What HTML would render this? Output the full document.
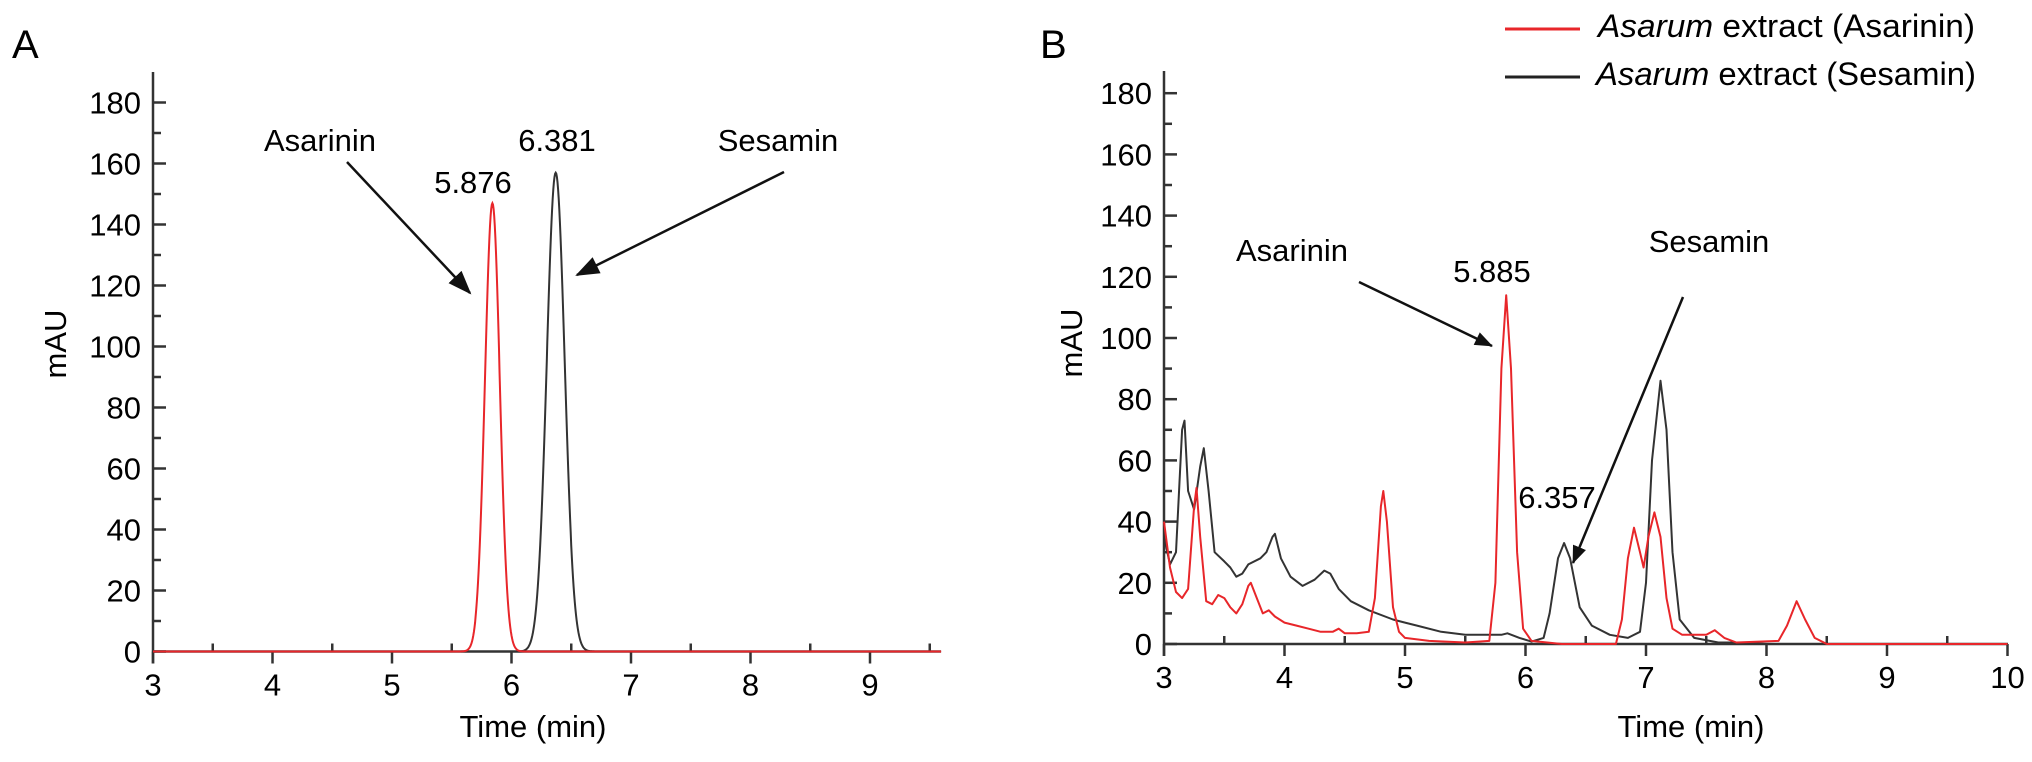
<!DOCTYPE html>
<html><head><meta charset="utf-8"><style>
html,body{margin:0;padding:0;background:#fff}
svg{display:block;font-family:"Liberation Sans",Arial,sans-serif}
</style></head><body>
<svg id="fig" width="2032" height="762" viewBox="0 0 2032 762">
<defs>
<marker id="ah" markerWidth="24" markerHeight="18" refX="22" refY="9" orient="auto" markerUnits="userSpaceOnUse" viewBox="0 0 24 18"><path d="M0,0 L24,9 L0,18 z" fill="#111"/></marker>
<marker id="ahs" markerWidth="18" markerHeight="14" refX="17" refY="7" orient="auto" markerUnits="userSpaceOnUse" viewBox="0 0 18 14"><path d="M0,0 L18,7 L0,14 z" fill="#111"/></marker>
</defs>
<text x="12" y="58" font-size="40">A</text>
<text x="1040" y="58" font-size="40">B</text>
<g id="pa"></g>
<g id="pb"></g>
<g>
<line x1="1505" y1="29" x2="1580" y2="29" stroke="#e8262a" stroke-width="3"/>
<text x="1598" y="37" font-size="32" textLength="377" lengthAdjust="spacingAndGlyphs"><tspan font-style="italic">Asarum</tspan> extract (Asarinin)</text>
<line x1="1505" y1="77" x2="1580" y2="77" stroke="#222" stroke-width="3"/>
<text x="1596" y="85" font-size="32" textLength="380" lengthAdjust="spacingAndGlyphs"><tspan font-style="italic">Asarum</tspan> extract (Sesamin)</text>
</g>
<g font-size="31">
<text x="320" y="151" text-anchor="middle">Asarinin</text>
<line x1="347" y1="162" x2="470" y2="293" stroke="#111" stroke-width="2.5" marker-end="url(#ah)"/>
<text x="473" y="193" text-anchor="middle">5.876</text>
<text x="557" y="151" text-anchor="middle">6.381</text>
<text x="778" y="151" text-anchor="middle">Sesamin</text>
<line x1="784" y1="172" x2="577" y2="275" stroke="#111" stroke-width="2.5" marker-end="url(#ah)"/>
</g>
<g font-size="31">
<text x="1292" y="261" text-anchor="middle">Asarinin</text>
<line x1="1359" y1="282" x2="1492" y2="346" stroke="#111" stroke-width="2.5" marker-end="url(#ahs)"/>
<text x="1492" y="282" text-anchor="middle">5.885</text>
<text x="1709" y="252" text-anchor="middle">Sesamin</text>
<line x1="1683" y1="297" x2="1573" y2="563" stroke="#111" stroke-width="2.5" marker-end="url(#ahs)"/>
<text x="1557" y="508" text-anchor="middle">6.357</text>
</g>
</svg>
<script>
// Panel A peaks: [center, height, sigma]
const peaksARed = [[5.84, 147, 0.062]];
const peaksABlack = [[6.37, 157, 0.075]];
// Panel B traces: times and values
const bRedT = [3.0,3.05,3.1,3.15,3.2,3.25,3.27,3.3,3.35,3.4,3.45,3.5,3.55,3.6,3.65,3.7,3.72,3.77,3.82,3.87,3.92,4.0,4.1,4.2,4.3,4.4,4.45,4.5,4.6,4.7,4.75,4.8,4.82,4.85,4.9,4.95,5.0,5.2,5.5,5.7,5.75,5.8,5.84,5.88,5.93,5.98,6.05,6.3,6.75,6.8,6.85,6.9,6.95,6.98,7.02,7.07,7.12,7.17,7.22,7.3,7.5,7.57,7.65,7.75,8.1,8.17,8.25,8.32,8.4,8.5,10];
const bRedV = [40,25,17,15,18,45,51,35,14,13,16,15,12,10,13,19,20,15,10,11,9,7,6,5,4,4,5,3.5,3.5,4,15,45,50,40,12,4,2,1,0.5,1,20,90,114,90,30,5,1,0,0,8,28,38,30,25,35,43,35,15,5,3,3,4.5,2,0.5,1,6,14,8,2,0,0];
const bBlackT = [3.0,3.05,3.1,3.15,3.17,3.2,3.25,3.3,3.33,3.37,3.42,3.5,3.55,3.6,3.65,3.7,3.8,3.85,3.9,3.92,3.97,4.05,4.15,4.25,4.33,4.38,4.45,4.55,4.7,4.9,5.0,5.1,5.3,5.5,5.8,5.85,5.95,6.05,6.15,6.2,6.27,6.32,6.37,6.45,6.55,6.7,6.85,6.95,7.0,7.05,7.12,7.17,7.22,7.28,7.4,7.6,7.8,8.0,8.5,10];
const bBlackV = [35,26,30,70,73,50,44,58,64,50,30,27,25,22,23,26,28,30,35,36,28,22,19,21,24,23,18,14,11,8,7,6,4,3,3,3.5,2,0.8,2,10,28,33,28,12,6,3,2,4,20,60,86,70,30,8,2,0.5,0.5,0,0,0];
const yTicks = [0,20,40,60,80,100,120,140,160,180];
const xTicksA = [3,4,5,6,7,8,9];
const xTicksB = [3,4,5,6,7,8,9,10];

const NS='http://www.w3.org/2000/svg';
function mk(parent,tag,attrs){const e=document.createElementNS(NS,tag);for(const k in attrs)e.setAttribute(k,attrs[k]);parent.appendChild(e);return e;}

function axes(g,cfg){
  const X=v=>cfg.x0+(v-cfg.xmin)*cfg.px, Y=v=>cfg.y0-v*cfg.py;
  let e=mk(g,'line',{x1:cfg.x0,y1:cfg.y0,x2:cfg.xEnd,y2:cfg.y0,stroke:'#333','stroke-width':2.5});
  
  
  e=mk(g,'line',{x1:cfg.x0,y1:cfg.y0+12,x2:cfg.x0,y2:cfg.yTop,stroke:'#333','stroke-width':2.5});
  
  
  for(let v=0;v<=185;v+=10){
    const major=v%20===0;
    e=mk(g,'line',{x1:cfg.x0,y1:Y(v),x2:cfg.x0+(major?13:8),y2:Y(v),stroke:'#333','stroke-width':2.5});
    
    
  }
  yTicks.forEach(v=>{
    e=mk(g,'text',{x:cfg.x0-12,y:Y(v)+11,'text-anchor':'end','font-size':31});
    e.textContent=v;
    
    
  });
  for(let v=cfg.xmin;X(v)<=cfg.xEnd+1;v+=0.5){
    const major=Math.abs(v-Math.round(v))<1e-6;
    e=mk(g,'line',{x1:X(v),y1:cfg.y0,x2:X(v),y2:cfg.y0+(major?12:-8),stroke:'#333','stroke-width':2.5});
    
    
  }
  cfg.xt.forEach(v=>{
    e=mk(g,'text',{x:X(v),y:cfg.y0+44,'text-anchor':'middle','font-size':31});
    e.textContent=v;
    
    
  });
  e=mk(g,'text',{x:cfg.xtx,y:cfg.xty,'text-anchor':'middle','font-size':31});
  e.textContent='Time (min)';
  
  
  e=mk(g,'text',{x:0,y:0,'text-anchor':'middle','font-size':31,transform:`translate(${cfg.ytx},${cfg.yty}) rotate(-90)`});
  e.textContent='mAU';
  
  
  return {X,Y};
}

// Panel A
const ga=document.getElementById('pa');
const A=axes(ga,{x0:153,y0:651.5,xmin:3,px:119.5,py:3.05,xEnd:941,yTop:72,xt:xTicksA,xtx:533,xty:737,ytx:66,yty:344});
function gaussPath(peaks,X,Y){
  let d='';
  for(let t=3;t<=9.6;t+=0.005){
    let v=0;peaks.forEach(p=>{v+=p[1]*Math.exp(-0.5*((t-p[0])/p[2])**2);});
    d+=(d?'L':'M')+X(t).toFixed(1)+','+Y(v).toFixed(1);
  }
  return d;
}
let p=mk(ga,'path',{d:gaussPath(peaksABlack,A.X,A.Y),fill:'none',stroke:'#333','stroke-width':2});


p=mk(ga,'path',{d:gaussPath(peaksARed,A.X,A.Y),fill:'none',stroke:'#e8262a','stroke-width':2});



// Panel B
const gb=document.getElementById('pb');
const B=axes(gb,{x0:1164,y0:644,xmin:3,px:120.5,py:3.06,xEnd:2008,yTop:71,xt:xTicksB,xtx:1691,xty:737,ytx:1082,yty:343});
function linePath(T,V,X,Y){return T.map((t,i)=>(i?'L':'M')+X(t).toFixed(1)+','+Y(V[i]).toFixed(1)).join('');}
p=mk(gb,'path',{d:linePath(bBlackT,bBlackV,B.X,B.Y),fill:'none',stroke:'#333','stroke-width':2,'stroke-linejoin':'round'});


p=mk(gb,'path',{d:linePath(bRedT,bRedV,B.X,B.Y),fill:'none',stroke:'#e8262a','stroke-width':2,'stroke-linejoin':'round'});


</script>
</body></html>
